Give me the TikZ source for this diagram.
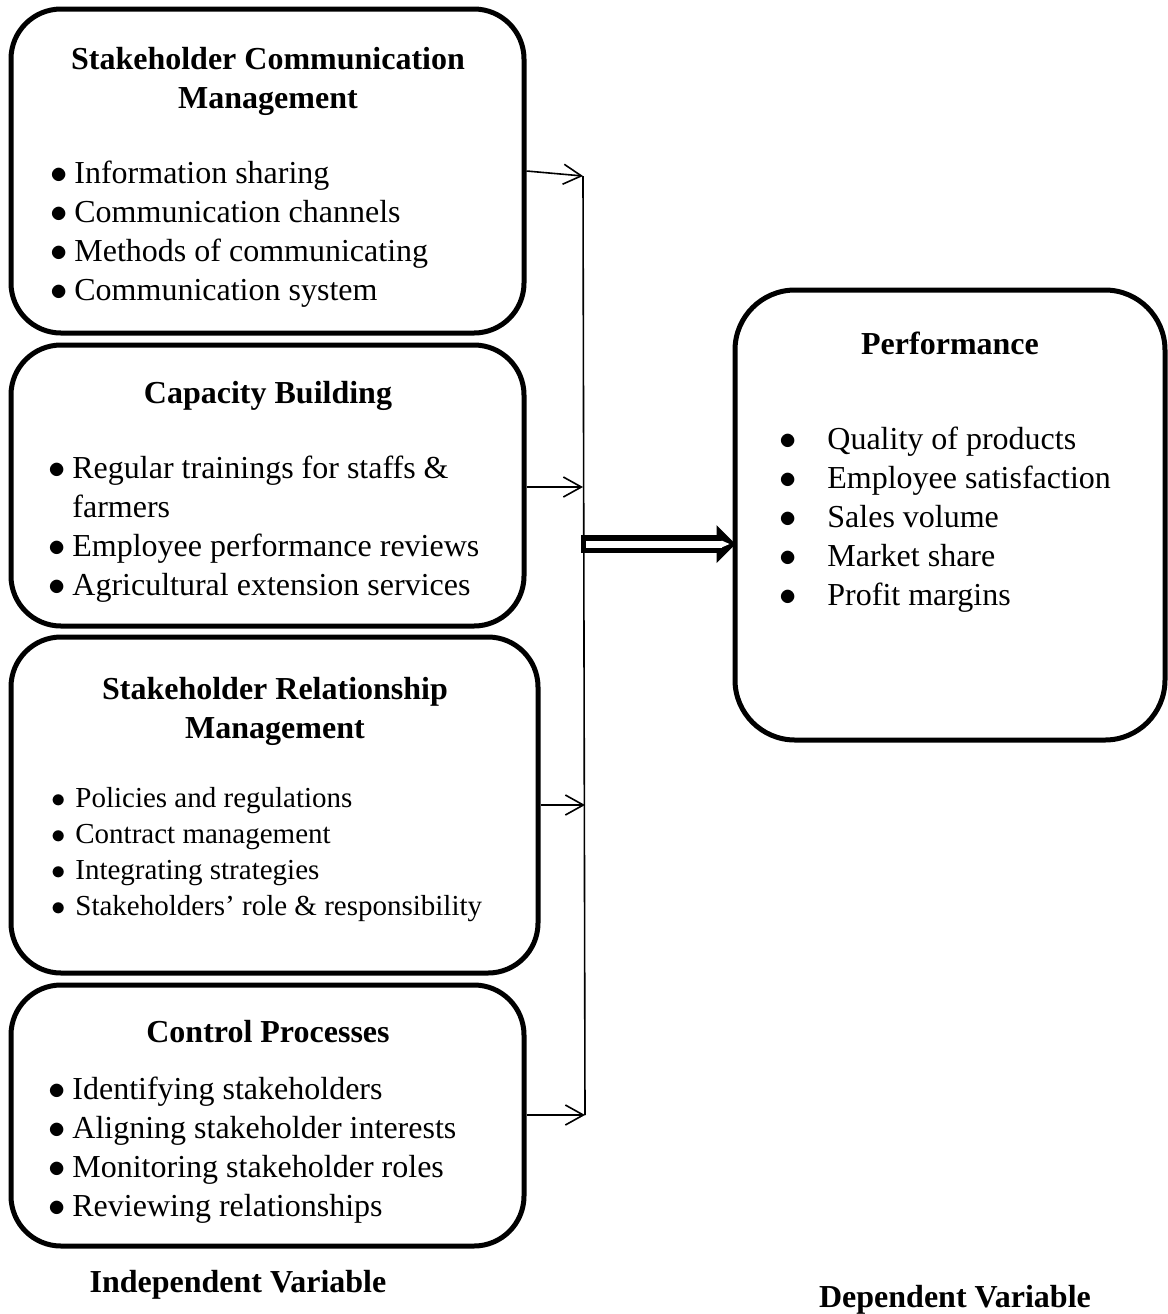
\documentclass[tikz,border=0pt]{standalone}
\usepackage{fontspec}
\setmainfont{Liberation Serif}
\usetikzlibrary{arrows.meta}
\newcommand{\itm}{\makebox[12pt][l]{$\bullet$}}
\newcommand{\pitm}{\makebox[24pt][l]{$\bullet$}}

\begin{document}
\begin{tikzpicture}[x=0.5pt,y=-0.5pt,
  box/.style={draw,line width=2.5pt,rounded corners=25pt,inner sep=0pt},
  head/.style={font=\fontsize{16}{19.5}\selectfont\bfseries,align=center,inner sep=0pt,anchor=north},
  items/.style={font=\fontsize{16}{19.5}\selectfont,align=left,inner sep=0pt,anchor=north west},
  link/.style={-{Straight Barb[length=9pt,width=10pt]},line width=0.8pt}]

  \useasboundingbox (0,0) rectangle (1168,1314);

  % independent variable boxes
  \node[box,minimum width=256.5pt,minimum height=162pt] (comm) at (267.5,171) {};
  \node[box,minimum width=256.5pt,minimum height=140.5pt] (cap) at (267.5,485.5) {};
  \node[box,minimum width=263.5pt,minimum height=168pt] (rel) at (274.5,805) {};
  \node[box,minimum width=256.5pt,minimum height=130.5pt] (ctrl) at (267.5,1115.5) {};
  % dependent variable box
  \node[box,rounded corners=30pt,minimum width=215pt,minimum height=225pt] (perf) at (950,515) {};

  \node[head] (commhead) at (268,47) {Stakeholder Communication\\Management};
  \node[items] (commlist) at (50,161) {\itm Information sharing\\
    \itm Communication channels\\ \itm Methods of communicating\\ \itm Communication system};

  \node[head] (caphead) at (268,381) {Capacity Building};
  \node[items] (caplist) at (48,456) {\itm Regular trainings for staffs \&\\
    \hspace*{12pt}farmers\\ \itm Employee performance reviews\\ \itm Agricultural extension services};

  \node[head] (relhead) at (275,677) {Stakeholder Relationship\\Management};
  \node[items,font=\fontsize{14.5}{18}\selectfont] (rellist) at (51,787) {\itm Policies and regulations\\
    \itm Contract management\\ \itm Integrating strategies\\ \itm Stakeholders’ role \& responsibility};

  \node[head] (ctrlhead) at (268,1020) {Control Processes};
  \node[items] (ctrllist) at (48,1077) {\itm Identifying stakeholders\\
    \itm Aligning stakeholder interests\\ \itm Monitoring stakeholder roles\\ \itm Reviewing relationships};

  \node[head] (perfhead) at (950,332) {Performance};
  \node[items] (perflist) at (779,427) {\pitm Quality of products\\ \pitm Employee satisfaction\\
    \pitm Sales volume\\ \pitm Market share\\ \pitm Profit margins};

  \node[head,anchor=base] (indep) at (238,1292) {Independent Variable};
  \node[head,anchor=base] (dep) at (955,1307) {Dependent Variable};

  % connectors
  \coordinate (c1) at (583,176);
  \coordinate (c2) at (583,487);
  \coordinate (c3) at (585,805);
  \coordinate (c4) at (585,1115);
  \coordinate (dstart) at (581,544);

  \draw[line width=0.8pt] (c1) -- (c4);
  \draw[link] (comm.east) -- (c1);
  \draw[link] (cap.east |- c2) -- (c2);
  \draw[link] (rel.east) -- (c3);
  \draw[link] (ctrl.east |- c4) -- (c4);

  \draw[line width=9pt,-{Triangle[length=9.5pt,width=19pt,line width=0pt]}]
    (dstart) -- ([xshift=1.5pt]perf.west |- dstart);
  \draw[white,line width=3.5pt,shorten <=2.5pt,shorten >=3pt,
    -{Triangle[length=4pt,width=3.5pt,line width=0pt]}] (dstart) -- ([xshift=1.5pt]perf.west |- dstart);
\end{tikzpicture}
\end{document}
